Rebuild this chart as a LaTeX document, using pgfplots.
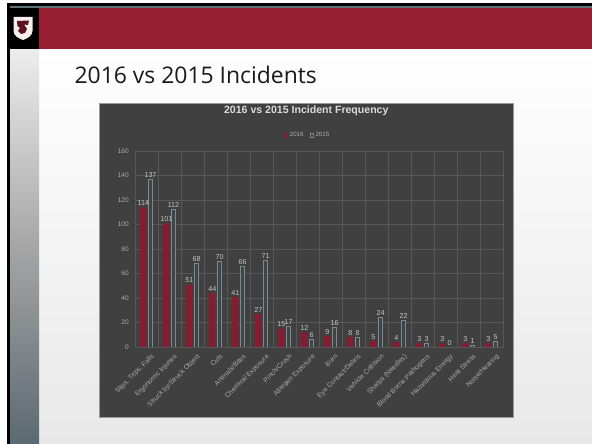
\documentclass[border=0pt]{standalone}
\usepackage{pgfplots}
\pgfplotsset{compat=1.18}
\usepackage{fontspec}
\setmainfont{Liberation Sans}
\newfontfamily\titlefont{Open Sans}
\definecolor{maroon}{HTML}{981E32}
\definecolor{chartbg}{HTML}{404040}
\definecolor{gridc}{HTML}{575757}
\definecolor{redbar}{HTML}{861C2F}
\definecolor{bluebar}{HTML}{7B8A93}
\definecolor{bluefill}{HTML}{3F4447}
\definecolor{labc}{HTML}{C4C4C4}
\definecolor{tickc}{HTML}{ABABAB}
\definecolor{stripc}{HTML}{5F7278}
\definecolor{colbot}{HTML}{5C6971}
\begin{document}
\begin{tikzpicture}
% slide background
\fill[white] (0,0) rectangle (592bp,444bp);
\shade[top color=white, bottom color=black!9] (39bp,0) rectangle (592bp,395bp);
\shade[top color=black!7, bottom color=colbot, middle color=black!35] (10bp,0) rectangle (39bp,395bp);
\fill[black] (7bp,0) rectangle (10bp,395bp);
\fill[black] (7bp,395bp) rectangle (39bp,440.7bp);
\fill[black] (7bp,438.3bp) rectangle (592bp,440.7bp);
\fill[stripc] (10bp,436bp) rectangle (592bp,438.3bp);
\fill[maroon] (39bp,395bp) rectangle (592bp,436bp);
% logo
\fill[black!5!maroon!8] (13.5bp,427bp) -- (32.5bp,427bp) -- (32.5bp,413bp) .. controls (32.5bp,408bp) and (27bp,405.5bp) .. (23bp,404bp) .. controls (19bp,405.5bp) and (13.5bp,408bp) .. (13.5bp,413bp) -- cycle;
\fill[maroon!60!black] (17bp,423bp) -- (29bp,423.5bp) -- (28bp,419bp) -- (24bp,419.5bp) -- (27bp,415bp) -- (25bp,411bp) -- (21bp,410bp) -- (18bp,413bp) -- (20bp,416bp) -- (17.5bp,418bp) -- cycle;
% slide title
\node[anchor=base west, inner sep=0pt, font=\titlefont\fontsize{23}{26}\selectfont, text=black!90] at (74.4bp,360.7bp) {2016 vs 2015 Incidents};
% chart box
\fill[chartbg] (99.3bp,26.3bp) rectangle (513.3bp,340.7bp);
\draw[black!40, line width=0.6bp] (99.3bp,26.3bp) rectangle (513.3bp,340.7bp);
\begin{axis}[
  at={(135.7bp,97bp)}, anchor=south west,
  scale only axis, width=368bp, height=196bp,
  xmin=-0.5, xmax=15.5, ymin=0, ymax=160,
  ybar,
  /pgf/number format/assume math mode=true,
  axis line style={draw=none},
  tick style={draw=none},
  ytick={0,20,...,160},
  xtick={0,...,15},
  minor xtick={-0.5,0.5,...,15.5},
  ymajorgrids, xminorgrids,
  major grid style={draw=gridc, line width=0.5bp},
  minor grid style={draw=gridc, line width=0.5bp},
  xticklabels={{Slips, Trips, Falls},Ergonomic Injuries,Struck by/Struck Object,Cuts,Animals/Bites,Chemical Exposure,Pinch/Crush,Allergen Exposure,Burn,Eye Contact/Debris,Vehicle Collision,Sharps (Needles),Blood Borne Pathogens,Hazardous Energy,Heat Stress,Noise/Hearing},
  xticklabel style={rotate=45, anchor=north east, inner sep=0pt, yshift=-4bp, xshift=1bp, font=\fontsize{6.8}{7.5}\selectfont, text=tickc},
  yticklabel style={anchor=east, inner sep=0pt, xshift=-6.7bp, font=\fontsize{6.6}{7.5}\selectfont, text=tickc},
  nodes near coords,
  every node near coord/.append style={font=\fontsize{7.2}{8}\selectfont, text=labc, inner sep=1.5bp},
  title={2016 vs 2015 Incident Frequency},
  title style={at={(axis description cs:0.4636,1.1617)}, anchor=base, inner sep=0pt, font=\bfseries\fontsize{10.6}{12}\selectfont, text=black!14},
  legend style={at={(axis description cs:0.467,1.080)}, anchor=center, draw=none, fill=none, legend columns=2, font=\fontsize{6.2}{7}\selectfont, text=tickc, inner sep=0pt, /tikz/every even column/.append style={column sep=4bp}},
  legend cell align=left,
]
\addplot[fill=redbar, draw=none, bar width=6.5bp, bar shift=-3.8bp,
  legend image code/.code={\draw[draw=redbar, fill=none, line width=0.6bp] (0bp,-1.7bp) rectangle (3.4bp,1.7bp);}]
  coordinates {(0,114) (1,101) (2,51) (3,44) (4,41) (5,27) (6,15) (7,12) (8,9) (9,8) (10,5) (11,4) (12,3) (13,3) (14,3) (15,3)};
\addlegendentry{2016}
\addplot[fill=bluefill, draw=bluebar, line width=0.6bp, bar width=4.4bp, bar shift=3.3bp,
  legend image code/.code={\draw[draw=bluebar, fill=none, line width=0.6bp] (0bp,-1.7bp) rectangle (3.4bp,1.7bp);}]
  coordinates {(0,137) (1,112) (2,68) (3,70) (4,66) (5,71) (6,17) (7,6) (8,16) (9,8) (10,24) (11,22) (12,3) (13,0) (14,1) (15,5)};
\addlegendentry{2015}
\end{axis}
\pgfresetboundingbox
\path[use as bounding box] (0,0) rectangle (592bp,444bp);
\end{tikzpicture}
\end{document}
